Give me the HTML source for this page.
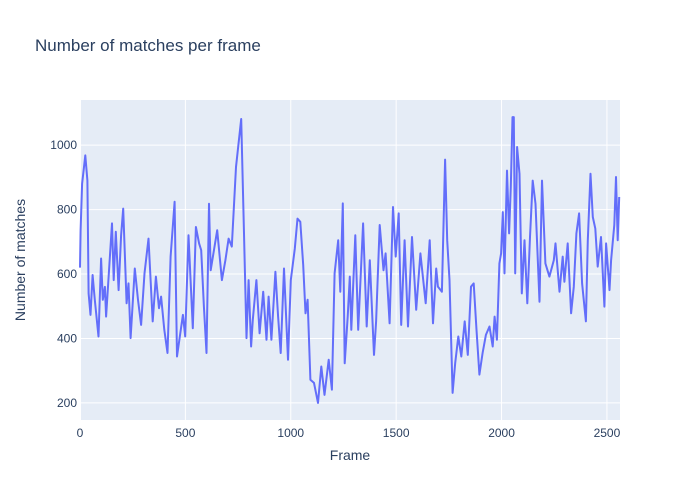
<!DOCTYPE html>
<html><head><meta charset="utf-8"><style>
body{margin:0;background:#fff;}
svg{display:block;font-family:"Liberation Sans",Arial,sans-serif;}
</style></head><body>
<svg id="chart" width="700" height="500">
<rect x="0" y="0" width="700" height="500" fill="#fff"/>
<text x="35" y="51" font-size="17" fill="#2a3f5f">Number of matches per frame</text>
<rect x="80" y="100" width="540" height="320" fill="#e5ecf6"/>
<g id="grid"></g>
<g id="series"></g>
<g id="ticks"></g>
<text x="350" y="460" font-size="14" fill="#2a3f5f" text-anchor="middle">Frame</text>
<text transform="translate(25,260) rotate(-90)" font-size="14" fill="#2a3f5f" text-anchor="middle">Number of matches</text>
</svg>
<script>
const frames=[0,3,10,25,35,41,50,60,70,88,100,108,118,124,152,160,170,183,195,205,221,230,240,260,275,290,306,325,345,360,375,385,400,415,430,449,460,488,499,515,535,550,565,575,588,600,612,620,651,673,690,705,720,740,765,778,790,800,812,820,837,852,869,885,895,908,927,940,952,968,987,1000,1019,1032,1045,1059,1070,1080,1093,1110,1129,1145,1160,1180,1195,1208,1225,1235,1247,1256,1270,1280,1287,1306,1320,1343,1360,1375,1395,1405,1422,1440,1450,1469,1485,1498,1512,1524,1540,1556,1575,1595,1615,1640,1659,1675,1690,1698,1717,1732,1742,1753,1768,1780,1795,1809,1825,1840,1855,1868,1881,1895,1910,1926,1943,1958,1967,1978,1990,1998,2006,2014,2026,2036,2044,2052,2058,2065,2074,2085,2096,2109,2122,2135,2148,2161,2180,2192,2208,2227,2248,2256,2275,2290,2298,2314,2330,2343,2355,2368,2382,2400,2409,2422,2433,2445,2456,2472,2488,2496,2512,2520,2535,2543,2551,2558];
const values=[620,736,880,968,890,540,473,597,520,406,648,520,560,468,757,581,731,550,720,803,509,571,401,617,520,442,602,710,453,592,494,530,427,355,654,824,344,473,406,720,432,746,695,674,499,355,818,612,736,581,643,710,685,932,1081,726,401,581,375,458,581,416,545,396,530,396,607,468,355,617,334,581,679,772,762,628,478,520,272,262,200,313,225,334,241,602,705,545,819,323,468,592,427,720,427,757,437,643,349,453,752,612,664,447,808,654,788,442,705,437,715,489,664,509,705,447,617,561,545,955,705,581,231,324,406,344,453,349,561,571,427,288,355,411,437,375,468,396,633,664,792,602,921,726,870,1087,1087,602,994,911,540,705,509,715,890,818,514,890,633,592,643,695,545,654,576,695,478,561,726,788,571,453,705,911,777,741,623,715,499,695,550,643,752,901,705,839,726];
const xTicks=[0,500,1000,1500,2000,2500];
const yTicks=[200,400,600,800,1000];
const X0=80,X1=620,Y0=420,Y1=100;
const xMin=0,xMax=2562,yMin=147,yMax=1140;
function xs(v){return X0+(v-xMin)/(xMax-xMin)*(X1-X0);}
function ys(v){return Y0-(v-yMin)/(yMax-yMin)*(Y0-Y1);}
const NS="http://www.w3.org/2000/svg";
const grid=document.getElementById('grid'),ticks=document.getElementById('ticks'),series=document.getElementById('series');
yTicks.forEach(t=>{
  const l=document.createElementNS(NS,'line');
  l.setAttribute('x1',X0);l.setAttribute('x2',X1);l.setAttribute('y1',ys(t));l.setAttribute('y2',ys(t));
  l.setAttribute('stroke','#fff');l.setAttribute('stroke-width','1');
  
  
  grid.appendChild(l);
  const tx=document.createElementNS(NS,'text');
  tx.setAttribute('x',X0-3);tx.setAttribute('y',ys(t)+4);tx.setAttribute('text-anchor','end');
  tx.setAttribute('font-size','12');tx.setAttribute('fill','#2a3f5f');tx.textContent=t;
  
  
  ticks.appendChild(tx);
});
xTicks.forEach(t=>{
  const l=document.createElementNS(NS,'line');
  l.setAttribute('x1',xs(t));l.setAttribute('x2',xs(t));l.setAttribute('y1',Y0);l.setAttribute('y2',Y1);
  l.setAttribute('stroke','#fff');l.setAttribute('stroke-width',t===0?'2':'1');
  
  
  grid.appendChild(l);
  const tx=document.createElementNS(NS,'text');
  tx.setAttribute('x',xs(t));tx.setAttribute('y',Y0+17);tx.setAttribute('text-anchor','middle');
  tx.setAttribute('font-size','12');tx.setAttribute('fill','#2a3f5f');tx.textContent=t;
  
  
  ticks.appendChild(tx);
});
const p=document.createElementNS(NS,'path');
p.setAttribute('d',frames.map((f,i)=>(i?'L':'M')+xs(f).toFixed(1)+','+ys(values[i]).toFixed(1)).join(''));
p.setAttribute('fill','none');p.setAttribute('stroke','#636efa');p.setAttribute('stroke-width','2');p.setAttribute('stroke-linejoin','round');


series.appendChild(p);
</script>
</body></html>
